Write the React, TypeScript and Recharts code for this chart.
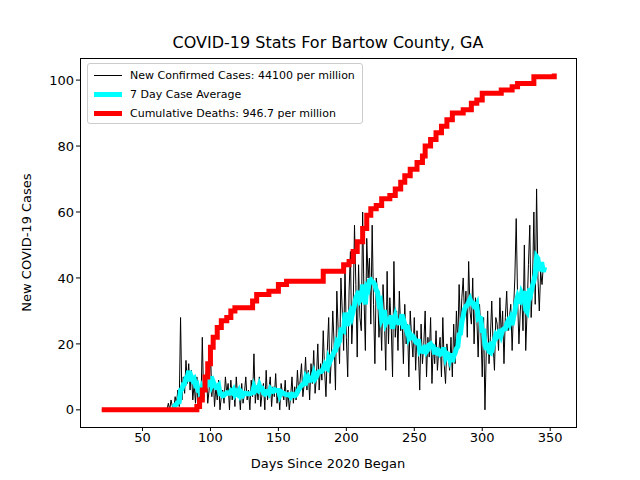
import React from 'react';
import { LineChart, Line, XAxis, YAxis } from 'recharts';

// daily new cases, starting at day 68 (zeros before that from day 20)
const caseStartDay = 68;
const dailyCases = [
  0, 2, 0, 3, 1, 0, 4, 2, 6, 1,
  28, 3, 10, 5, 15, 8, 14, 6, 12, 3,
  8, 2, 10, 0, 5, 1, 22, 3, 8, 12,
  2, 6, 18, 4, 10, 1, 7, 3, 9, 0,
  4, 6, 2, 10, 5, 8, 0, 9, 3, 7,
  1, 10, 4, 6, 0, 8, 2, 5, 10, 3,
  6, 0, 9, 4, 17, 2, 7, 3, 10, 1,
  5, 8, 0, 12, 3, 6, 10, 1, 7, 4,
  11, 2, 6, 0, 8, 5, 3, 9, 1, 6,
  0, 4, 10, 2, 7, 3, 12, 5, 9, 14,
  4, 8, 16, 6, 12, 3, 14, 8, 18, 5,
  10, 20, 6, 14, 9, 24, 12, 4, 18, 28,
  8, 16, 30, 20, 6, 36, 24, 14, 40, 30,
  18, 44, 22, 10, 36, 48, 20, 30, 56, 38,
  16, 44, 28, 24, 60, 34, 18, 52, 40, 46,
  26, 56, 32, 14, 40, 36, 22, 30, 18, 38,
  28, 12, 42, 20, 34, 26, 10, 45, 22, 30,
  18, 36, 24, 28, 14, 32, 20, 26, 10, 30,
  22, 16, 28, 12, 24, 18, 6, 26, 14, 20,
  30, 10, 22, 16, 28, 8, 20, 14, 24, 12,
  18, 22, 10, 28, 14, 8, 20, 16, 12, 22,
  10, 26, 14, 30, 20, 38, 24, 34, 40, 28,
  36, 22, 45, 30, 26, 40, 20, 34, 28, 16,
  32, 24, 10, 28, 0, 18, 30, 14, 22, 33,
  20, 12, 28, 26, 18, 34, 22, 30, 14, 28,
  36, 24, 28, 32, 18, 30, 40, 58, 34, 20,
  30, 36, 24, 50, 18, 30, 44, 56, 28, 38,
  60, 32, 67, 40, 30, 42, 38, 44, 42,
];

// cumulative deaths (scaled), step changes: [day, value]
const deathSteps: [number, number][] = [
  [20, 0], [88, 0], [90, 1], [92, 3], [94, 6], [96, 10], [98, 14], [100, 19],
  [102, 22], [105, 25], [108, 27], [112, 28], [115, 30], [118, 31], [128, 31],
  [131, 33], [134, 35], [140, 35], [143, 36], [148, 36], [150, 38], [156, 39],
  [180, 39], [183, 42], [196, 42], [198, 44], [202, 45], [205, 48], [208, 51],
  [212, 55], [215, 59], [218, 61], [222, 62], [226, 64], [232, 65], [236, 67],
  [240, 69], [243, 71], [247, 73], [252, 75], [256, 77], [258, 80], [262, 82],
  [266, 84], [270, 86], [274, 88], [278, 90], [286, 91], [292, 93], [296, 94],
  [300, 96], [310, 96], [314, 97], [322, 98], [326, 99], [334, 99], [338, 101],
  [350, 101], [353, 102],
];

const xTicks = [50, 100, 150, 200, 250, 300, 350];
const yTicks = [0, 20, 40, 60, 80, 100];

const caseData = (() => {
  const rows: { day: number; cases: number }[] = [];
  for (let d = 20; d < caseStartDay; d++) rows.push({ day: d, cases: 0 });
  dailyCases.forEach((c, i) => rows.push({ day: caseStartDay + i, cases: c }));
  return rows;
})();

// trailing 7 day mean of the cases above
const avgData = caseData.map((r, i) => {
  const win = caseData.slice(Math.max(0, i - 6), i + 1);
  return { day: r.day, avg: win.reduce((s, w) => s + w.cases, 0) / win.length };
}).filter(r => r.day >= 72);

const deathData = deathSteps.map(([day, deaths]) => ({ day, deaths }));

const font = 'DejaVu Sans, sans-serif';

export default function App() {
  return (
    <div style={{ position: 'absolute', left: 0, top: 0, width: 640, height: 480, background: '#fff', fontFamily: font }}>
      <div style={{ position: 'absolute', left: 80, width: 496, top: 33, textAlign: 'center', fontSize: 16 }}>
        COVID-19 Stats For Bartow County, GA
      </div>
      <LineChart width={640} height={480} margin={{ top: 58, right: 64, bottom: 0, left: 20 }}>
        <XAxis dataKey="day" type="number" domain={[4, 369]} ticks={xTicks} allowDataOverflow
          axisLine={false} tickSize={4} tick={{ fontSize: 13, fill: '#000' }} stroke="#000"
          allowDuplicatedCategory={false} height={53}
          label={{ value: 'Days Since 2020 Began', position: 'insideBottom', offset: 12, fontSize: 13, fill: '#000' }} />
        <YAxis type="number" domain={[-5.2, 106.7]} ticks={yTicks} allowDataOverflow width={60}
          axisLine={false} tickSize={4} tick={{ fontSize: 13, fill: '#000' }} stroke="#000"
          label={{ value: 'New COVID-19 Cases', angle: -90, position: 'insideLeft', offset: 6, fontSize: 13, fill: '#000', style: { textAnchor: 'middle' } }} />
        <Line data={caseData} dataKey="cases" stroke="#000" strokeWidth={1} dot={false} isAnimationActive={false} />
        <Line data={avgData} dataKey="avg" stroke="#00FFFF" strokeWidth={5} dot={false} isAnimationActive={false} />
        <Line data={deathData} dataKey="deaths" type="stepAfter" stroke="#FF0000" strokeWidth={5} dot={false} isAnimationActive={false} />
      </LineChart>
      <div style={{ position: 'absolute', left: 80, top: 58, width: 495, height: 368, border: '1px solid #000', pointerEvents: 'none' }} />
      <div style={{ position: 'absolute', left: 87, top: 63, width: 274, height: 59, border: '1px solid #ccc', borderRadius: 3, background: 'rgba(255,255,255,0.8)', fontSize: 11 }}>
        {[
          ['New Confirmed Cases: 44100 per million', '#000', 1],
          ['7 Day Case Average', '#00FFFF', 5],
          ['Cumulative Deaths: 946.7 per million', '#FF0000', 5],
        ].map(([label, color, w], i) => (
          <div key={i} style={{ position: 'absolute', left: 6, top: 2 + i * 19, height: 18, display: 'flex', alignItems: 'center', whiteSpace: 'nowrap' }}>
            <div style={{ width: 28, height: w as number, background: color as string, marginRight: 8 }} />
            <span>{label}</span>
          </div>
        ))}
      </div>
    </div>
  );
}
